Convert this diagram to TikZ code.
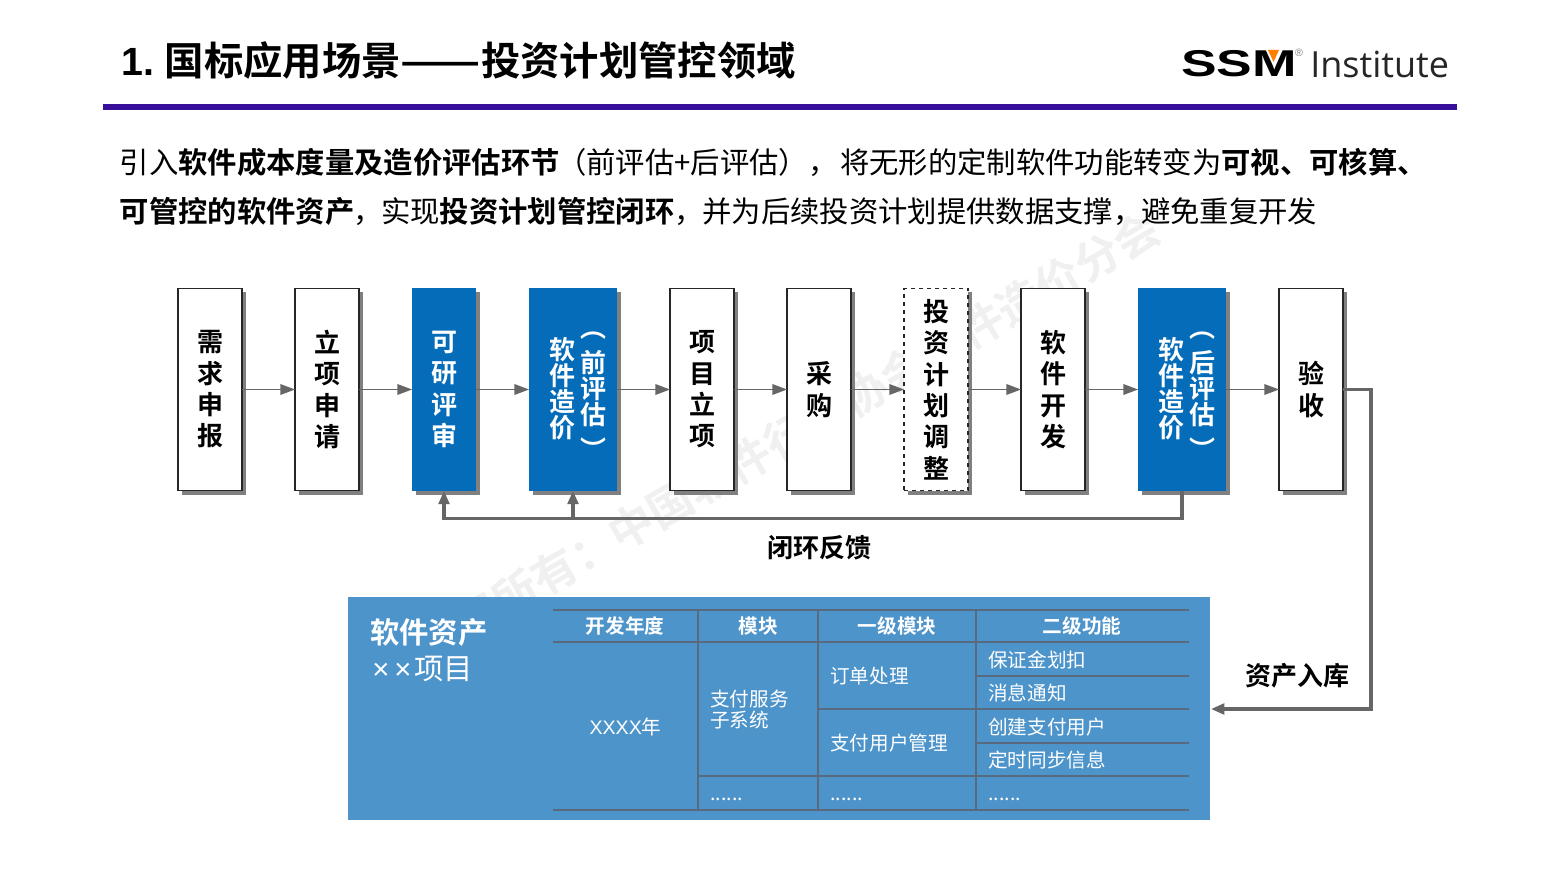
\documentclass[tikz,border=0pt]{standalone}
\usepackage{fontspec}
\setmainfont{Noto Sans CJK SC}[BoldFont={Noto Sans CJK SC Bold}]
\newfontfamily\logofont{Liberation Sans}
\newfontfamily\instfont{Open Sans}
\usetikzlibrary{positioning,shadows,arrows.meta}
\definecolor{flowblue}{HTML}{046CB8}
\definecolor{tableblue}{HTML}{4D94CB}
\definecolor{tableline}{HTML}{5A6A7E}
\definecolor{rulepurple}{HTML}{380F9B}
\definecolor{linegray}{HTML}{666666}
\definecolor{stampgray}{HTML}{F0F0F0}
\newcommand{\stackstrut}{\rule[-3.5pt]{0pt}{21pt}}
\newcommand{\tightstack}[1]{\parbox[c]{19.5pt}{\centering\baselineskip=19.5pt\lineskiplimit=-30pt \stackstrut#1\stackstrut}}
\newcommand{\colstack}[2]{\hspace*{6.75pt}\tightstack{#1}\hspace{3.75pt}\tightstack{#2}}
\newcommand{\parenup}{\smash{\raisebox{6.75pt}{︵}}}
\newcommand{\parendown}{\smash{\raisebox{-6.75pt}{︶}}}
\tikzset{
    flowbox/.style={minimum width=48pt,minimum height=152pt,inner sep=0pt,outer sep=0pt,align=center,draw=black!85,line width=.8pt,fill=white,
        drop shadow={shadow xshift=3pt,shadow yshift=-3pt,fill=black!50,opacity=1},font=\fontsize{19.5pt}{23.5pt}\selectfont\bfseries},
    bluebox/.style={flowbox,draw=none,fill=flowblue,text=white},
    widebox/.style={bluebox,minimum width=66pt},
    dashbox/.style={flowbox,dashed},
    flowarrow/.style={draw=linegray,line width=1pt,-{Triangle[length=11pt,width=8pt]}},
    backarrow/.style={draw=linegray,line width=2.4pt,-{Triangle[length=10pt,width=8pt]}},
    grid/.style={draw=tableline,line width=.8pt},
    gridthick/.style={draw=tableline,line width=1.3pt},
    cell/.style={text=white,inner sep=0pt,font=\fontsize{14.7pt}{15pt}\selectfont},
    headcell/.style={cell,font=\fontsize{14.7pt}{15pt}\selectfont\bfseries},
    sidelabel/.style={inner sep=0pt,font=\fontsize{19.5pt}{24pt}\selectfont\bfseries},
}
\begin{document}
\begin{tikzpicture}[x=.75pt,y=-.75pt,node distance=39.75pt]
\fill[white] (0,0) rectangle (1559,877);
\useasboundingbox (0,0) rectangle (1559,877);
\node[rotate=30,text=stampgray,inner sep=0pt,font=\fontsize{33.6pt}{34pt}\selectfont\bfseries] (stamp) at (787,437) {版权所有：中国软件行业协会软件造价分会};
\node[anchor=west,inner sep=0pt,font=\fontsize{29.5pt}{34pt}\selectfont\bfseries] (title) at (121,61) {{\logofont 1.}\hspace{8pt}国标应用场景\scalebox{1.2}[1]{——}投资计划管控领域};
\fill[rulepurple] (103,104) rectangle (1457,110);
\node[anchor=west,inner sep=0pt] (logo) at (1181,63.5) {\logofont\bfseries\scalebox{1.43}[1]{\fontsize{28pt}{28pt}\selectfont SSM}};
\fill[orange] (1268,50) -- (1279,50) -- (1273.5,62) -- cycle;
\node[inner sep=0pt,text=gray,font=\fontsize{8pt}{8pt}\selectfont] (regmark) at (1299,53) {\logofont ®};
\node[anchor=west,inner sep=0pt,text=black!85,font=\fontsize{27pt}{30pt}\selectfont\instfont] (inst) at (1310,64) {Institute};
\node[anchor=north west,inner sep=0pt,align=left,font=\fontsize{22pt}{36.8pt}\selectfont] (intro) at (119.5,148)
    {引入\textbf{软件成本度量及造价评估环节}\hspace{-2pt}（前评估+后评估），\hspace{2pt}将无形的定制软件功能转变为\textbf{可视、可核算、}\\
     \textbf{可管控的软件资产}\hspace{-1pt}，\hspace{-1pt}实现\textbf{投资计划管控闭环}，\hspace{-1pt}并为后续投资计划提供数据支撑，\hspace{-1pt}避免重复开发};
\node[flowbox] (need) at (210,389.5) {需\\求\\申\\报};
\node[flowbox,right=of need] (apply) {立\\项\\申\\请};
\node[bluebox,right=of apply] (study) {可\\研\\评\\审};
\node[widebox,right=of study] (precost) {\colstack{软\\件\\造\\价}{\parenup\\前\\评\\估\\\parendown}};
\node[flowbox,right=of precost] (setup) {项\\目\\立\\项};
\node[flowbox,right=of setup] (buy) {采\\购};
\node[dashbox,right=of buy] (adjust) {投\\资\\计\\划\\调\\整};
\node[flowbox,right=of adjust] (dev) {软\\件\\开\\发};
\node[widebox,right=of dev] (postcost) {\colstack{软\\件\\造\\价}{\parenup\\后\\评\\估\\\parendown}};
\node[flowbox,right=of postcost] (accept) {验\\收};
\foreach \a/\b in {need/apply,apply/study,study/precost,precost/setup,setup/buy,buy/adjust,adjust/dev,dev/postcost,postcost/accept}
    \draw[flowarrow] (\a) -- (\b);
\coordinate[below=21pt of postcost] (backcorner);
\draw[backarrow] (postcost.south) -- (backcorner) -| (study.south);
\draw[backarrow] (precost.south |- backcorner) -- (precost.south);
\node[sidelabel] (backlabel) at (819,548) {闭环反馈};
\node[anchor=north west,inner sep=0pt,outer sep=0pt,fill=tableblue,minimum width=646.5pt,minimum height=167.25pt] (assets) at (348,597) {};
\coordinate (assetin) at (1211,709);
\draw[backarrow] (accept.east) -- (1371,389.5) |- (assetin);
\node[sidelabel] (inlabel) at (1297,676) {资产入库};
\node[anchor=west,inner sep=0pt,text=white,font=\fontsize{22pt}{26pt}\selectfont\bfseries] (assettitle) at (370,632.5) {软件资产};
\node[anchor=west,inner sep=0pt,text=white,font=\fontsize{22pt}{26pt}\selectfont] (assetname) at (372,668.5) {{\logofont ×\hspace{3.75pt}×}\hspace{2pt}项目};
\draw[gridthick] (553,610) -- (1189,610);
\draw[gridthick] (553,810) -- (1189,810);
\draw[grid] (553,642) -- (1189,642);
\draw[grid] (976,676) -- (1189,676);
\draw[grid] (818,709) -- (1189,709);
\draw[grid] (976,743) -- (1189,743);
\draw[grid] (698,776) -- (1189,776);
\foreach \x in {698,818,976}
    \draw[grid] (\x,610) -- (\x,810);
\node[headcell] (headyear) at (625,626) {开发年度};
\node[headcell] (headmod) at (758,626) {模块};
\node[headcell] (headsub) at (897,626) {一级模块};
\node[headcell] (headfunc) at (1082,626) {二级功能};
\node[cell] (year) at (625.5,727) {{\logofont XXXX}年};
\node[cell,anchor=west,align=left,font=\fontsize{14.7pt}{15.8pt}\selectfont] (pay) at (710,710) {支付服务\\子系统};
\node[cell,anchor=west] (order) at (830,676) {订单处理};
\node[cell,anchor=west] (payuser) at (830,743) {支付用户管理};
\node[cell,anchor=west] (margin) at (988,660) {保证金划扣};
\node[cell,anchor=west] (notice) at (988,693) {消息通知};
\node[cell,anchor=west] (create) at (988,727) {创建支付用户};
\node[cell,anchor=west] (sync) at (988,760) {定时同步信息};
\foreach \n/\x in {dotsa/710,dotsb/830,dotsc/988}
    \node[cell,anchor=west] (\n) at (\x,799) {......};
\end{tikzpicture}
\end{document}
